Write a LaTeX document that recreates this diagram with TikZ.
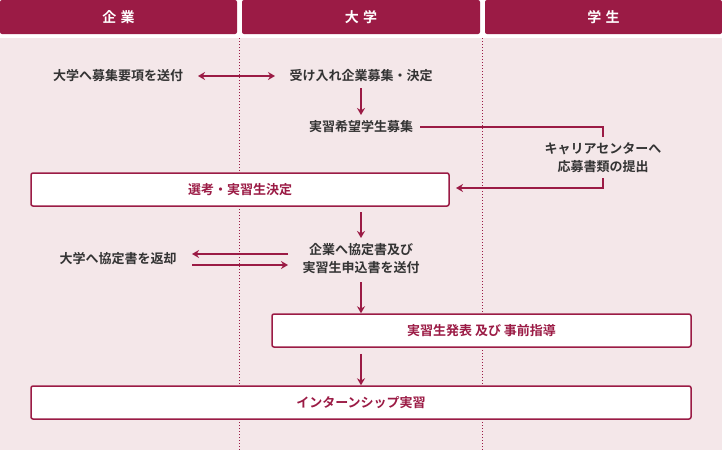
\documentclass[tikz,border=0pt]{standalone}
\usepackage{fontspec}
\newfontfamily\jp{Noto Sans CJK JP Bold}
\usetikzlibrary{arrows.meta}
\definecolor{crim}{HTML}{9B1B45}
\definecolor{bgpink}{HTML}{F4E7E9}
\definecolor{txt}{HTML}{333333}
\tikzset{
  hdr/.style={fill=crim, rounded corners=2pt, text=white, font=\jp\fontsize{14}{16}\selectfont, inner sep=0pt},
  lbl/.style={text=txt, font=\jp\fontsize{13}{18}\selectfont, align=center, inner sep=1pt},
  stepbox/.style={draw=crim, line width=1.5pt, fill=white, rounded corners=2pt, text=crim, font=\jp\fontsize{13}{15}\selectfont, inner sep=0pt},
  flow/.style={draw=crim, line width=1.5pt, -{Stealth[length=7pt,width=8pt]}},
  lane/.style={draw=crim, line width=0.7pt, dash pattern=on 1pt off 2pt},
}
\begin{document}
\begin{tikzpicture}[x=1pt,y=-1pt]
\useasboundingbox (0,0) rectangle (722,450);
\fill[bgpink] (0,38) rectangle (722,450);
% headers
\node[hdr, minimum width=237pt, minimum height=34pt] (h1) at (118.5,17) {企\hspace{0.3em}業};
\node[hdr, minimum width=238pt, minimum height=34pt] (h2) at (361,17) {大\hspace{0.3em}学};
\node[hdr, minimum width=237pt, minimum height=34pt] (h3) at (603.5,17) {学\hspace{0.3em}生};
% lanes
\coordinate (l1t) at (239.5,38); \coordinate (l1b) at (239.5,450);
\coordinate (l2t) at (482.5,38); \coordinate (l2b) at (482.5,450);
\draw[lane] (l1t) -- (l1b);
\draw[lane] (l2t) -- (l2b);
% texts
\node[lbl] (a1) at (118,76) {大学へ募集要項を送付};
\node[lbl] (b1) at (361,76) {受け入れ企業募集・決定};
\node[lbl] (b2) at (361,127) {実習希望学生募集};
\node[lbl] (c1) at (603,158) {キャリアセンターへ\\応募書類の提出};
\node[stepbox, minimum width=418pt, minimum height=33pt] (s1) at (240,189.5) {選考・実習生決定};
\node[lbl] (b3) at (361,259) {企業へ協定書及び\\実習生申込書を送付};
\node[lbl] (a2) at (118,259) {大学へ協定書を返却};
\node[stepbox, minimum width=419pt, minimum height=33pt] (s2) at (481.5,330.5) {実習生発表 及び 事前指導};
\node[stepbox, minimum width=660pt, minimum height=33pt] (s3) at (361,402.5) {インターンシップ実習};
% connectors
\coordinate (d1a) at (198,76); \coordinate (d1b) at (275,76);
\draw[flow, {Stealth[length=7pt,width=8pt]}-{Stealth[length=7pt,width=8pt]}] (d1a) -- (d1b);
\draw[flow] (b1.south |- 0,88) -- (b2.north |- 0,115);
\coordinate (r1) at (420,127);
\coordinate (r2) at (603,137);
\draw[draw=crim, line width=1.5pt] (r1) -- (603,127) -- (r2);
\coordinate (r3) at (603,178);
\coordinate (r4) at (456,188);
\draw[flow] (r3) -- (603,188) -- (r4);
\draw[flow] (361,212) -- (361,238);
\coordinate (p1) at (288,254); \coordinate (p2) at (192,254);
\coordinate (p3) at (192,265); \coordinate (p4) at (288,265);
\draw[flow] (p1) -- (p2);
\draw[flow] (p3) -- (p4);
\draw[flow] (361,282) -- (s2.north -| 361,0);
\draw[flow] (s2.south -| 361,0) ++(0,6) -- (s3.north -| 361,0);
\end{tikzpicture}
\end{document}
